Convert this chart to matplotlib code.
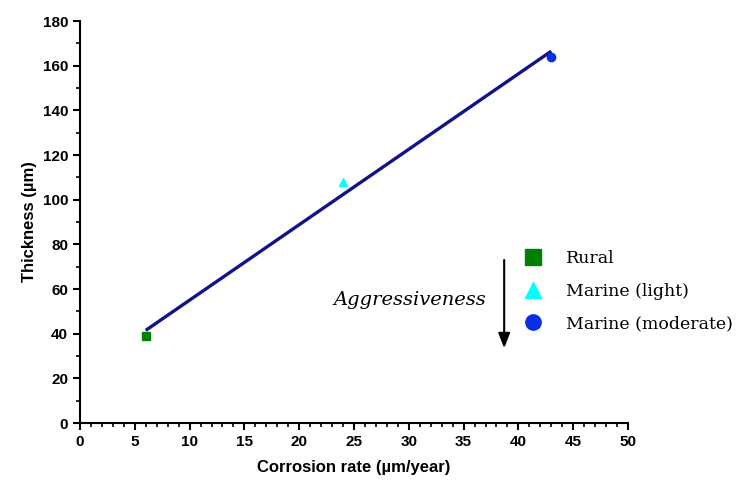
import numpy as np
import matplotlib.pyplot as plt
from matplotlib.lines import Line2D

# data
sites = ['Rural', 'Marine (light)', 'Marine (moderate)']
rate = [6, 24, 43]          # corrosion rate, um/year
thickness = [39, 108, 164]  # thickness, um
markers = ['s', '^', 'o']
colors = ['#008000', '#00ffff', '#0a2ee6']

# linear fit drawn through the range of the points
fit_x = [6, 43]
fit_y = [41.5, 166.5]

fig = plt.figure(figsize=(7.42, 4.84), dpi=100)
ax = fig.add_axes([0.1078, 0.126, 0.7386, 0.8306])

ax.plot(fit_x, fit_y, color='#12128a', lw=2.4, solid_capstyle='butt', zorder=2)
for x, y, m, c in zip(rate, thickness, markers, colors):
    ax.plot(x, y, marker=m, color=c, ms=6, ls='none', zorder=3)

ax.set_xlim(0, 50)
ax.set_ylim(0, 180)
ax.set_xticks(np.arange(0, 51, 5))
ax.set_xticks(np.arange(0, 51, 1), minor=True)
ax.set_yticks(np.arange(0, 181, 20))
ax.set_yticks(np.arange(0, 181, 10), minor=True)

for s in ['top', 'right']:
    ax.spines[s].set_visible(False)
for s in ['left', 'bottom']:
    ax.spines[s].set_linewidth(1.5)
ax.tick_params(which='major', direction='out', length=5, width=1.5, labelsize=11)
ax.tick_params(which='minor', direction='out', length=3, width=1.2)
for lab in ax.get_xticklabels() + ax.get_yticklabels():
    lab.set_fontweight('bold')
    lab.set_family('Liberation Sans')

ax.set_xlabel('Corrosion rate (\u00b5m/year)', fontsize=12, fontweight='bold',
              family='Liberation Sans', labelpad=8)
ax.set_ylabel('Thickness (\u00b5m)', fontsize=12, fontweight='bold',
              family='Liberation Sans', labelpad=4)

handles = [Line2D([], [], marker=m, color=c, ls='none', ms=11)
           for m, c in zip(markers, colors)]
leg = ax.legend(handles, sites, loc='upper left', bbox_to_anchor=(0.782, 0.447),
                frameon=False, handletextpad=0.9, labelspacing=0.9,
                prop={'family': 'DejaVu Serif', 'size': 12.5}, borderaxespad=0)
leg.set_zorder(5)

ax.annotate('', xy=(38.7, 33.5), xytext=(38.7, 73),
            arrowprops=dict(arrowstyle='-|>,head_width=0.35,head_length=0.9',
                            color='black', lw=1.5, shrinkA=0, shrinkB=0))
ax.text(23.1, 55, 'Aggressiveness', fontsize=14, style='italic',
        family='DejaVu Serif', ha='left', va='center')

fig.savefig('out.png', dpi=100)
